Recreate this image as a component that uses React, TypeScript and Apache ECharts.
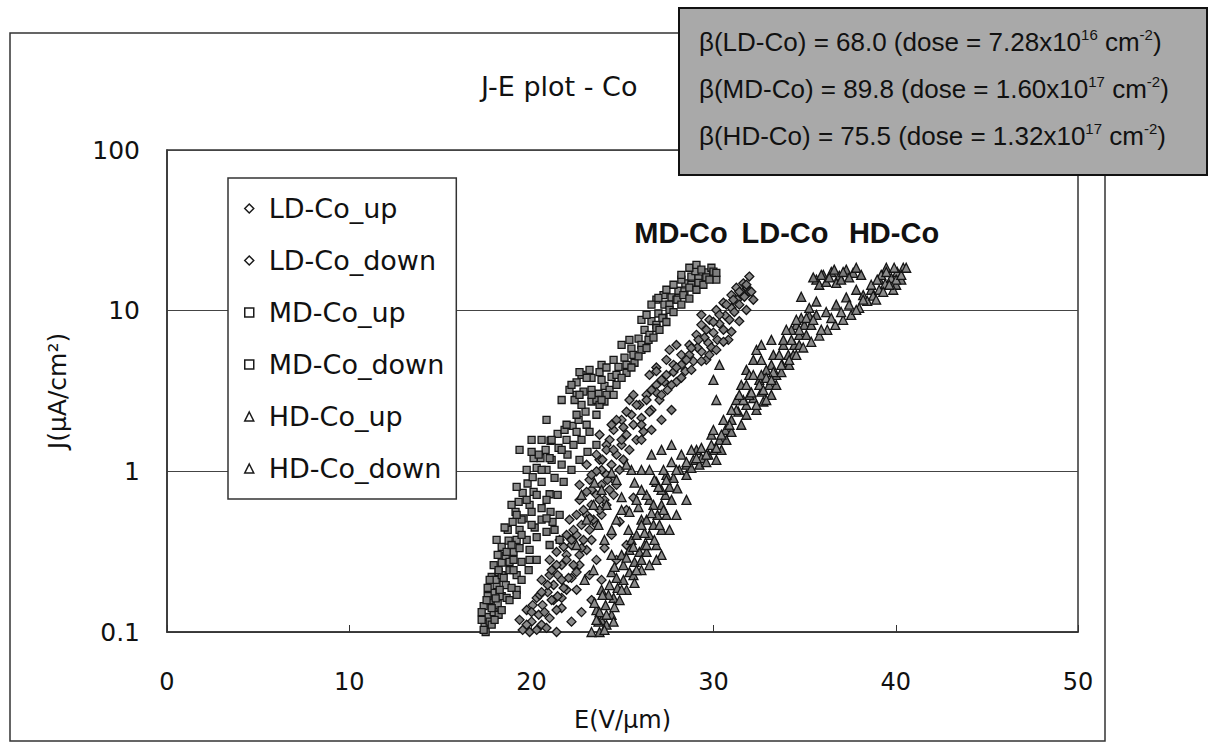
import React, { useEffect, useRef } from "react";
import * as echarts from "echarts";

// ---------- data (E in V/µm, J in µA/cm²) ----------
const seriesNames = ["LD-Co_up", "LD-Co_down", "MD-Co_up", "MD-Co_down", "HD-Co_up", "HD-Co_down"];

const ldUp: number[][] = [
  [19.52, 0.103], [20.01, 0.116], [20.4, 0.128], [20.61, 0.147], [20.29, 0.163], [20.89, 0.177],
  [21.22, 0.196], [20.56, 0.211], [21.44, 0.226], [21.66, 0.261], [21.0, 0.281], [21.93, 0.302],
  [22.2, 0.348], [21.55, 0.374], [22.48, 0.402], [22.75, 0.464], [22.09, 0.5], [23.03, 0.536],
  [23.3, 0.618], [22.64, 0.664], [23.57, 0.714], [23.85, 0.824], [23.19, 0.885], [24.12, 0.95],
  [24.4, 1.1], [23.74, 1.18], [24.67, 1.27], [24.95, 1.46], [24.29, 1.57], [25.22, 1.69],
  [25.6, 1.95], [26.04, 2.15], [26.59, 2.41], [27.03, 2.78], [27.47, 3.21], [27.96, 3.6],
  [28.45, 4.2], [28.89, 4.85], [29.33, 5.56], [29.71, 6.3], [29.99, 7.3], [30.32, 8.3],
  [30.65, 9.3], [30.98, 10.4], [31.3, 11.7], [31.58, 12.9], [31.85, 13.8],
  [19.74, 0.111], [20.56, 0.111], [21.0, 0.122], [20.07, 0.147], [21.22, 0.158], [21.66, 0.141],
  [20.89, 0.196], [21.93, 0.183], [22.2, 0.217], [21.38, 0.261], [22.64, 0.261], [23.03, 0.324],
  [21.77, 0.339], [23.3, 0.374], [22.31, 0.432], [23.57, 0.464], [22.86, 0.575], [23.85, 0.536],
  [24.12, 0.618], [23.3, 0.767], [24.51, 0.714], [23.85, 1.02], [23.03, 1.1], [23.57, 1.27],
  [24.12, 1.46], [23.74, 1.69], [24.51, 1.81], [24.95, 2.09], [25.49, 2.25], [25.93, 2.59],
  [25.38, 2.78], [26.32, 2.99], [26.86, 3.45], [26.48, 3.98], [27.41, 3.98], [27.8, 4.6],
  [28.23, 5.31], [27.58, 5.7], [28.67, 6.12], [29.06, 7.07], [29.33, 8.16], [29.77, 8.77],
  [30.15, 10.1], [30.54, 11.2], [30.98, 12.5], [31.25, 13.9], [31.63, 14.8], [31.96, 16.3],
  [22.48, 0.183], [23.19, 0.226], [23.57, 0.281], [24.01, 0.333], [24.4, 0.402], [24.84, 0.485],
  [25.22, 0.575], [25.6, 0.685], [24.67, 0.281], [25.22, 0.348], [23.85, 0.211], [23.3, 0.158],
  [22.75, 0.133], [22.2, 0.116], [21.38, 0.1],
];

const ldDown: number[][] = [
  [19.9, 0.1], [20.83, 0.106], [19.74, 0.137], [20.45, 0.17], [21.11, 0.158], [21.66, 0.163],
  [21.38, 0.137], [21.77, 0.188], [21.0, 0.226], [22.04, 0.217], [22.31, 0.261], [21.38, 0.315],
  [22.64, 0.302], [22.86, 0.374], [21.93, 0.402], [23.19, 0.432], [23.41, 0.5], [22.48, 0.536],
  [23.74, 0.575], [24.01, 0.664], [23.03, 0.745], [24.29, 0.767], [24.51, 0.885], [23.57, 1.0],
  [24.84, 1.02], [25.05, 1.18], [25.38, 1.36], [25.77, 1.57], [24.12, 1.36], [26.15, 1.77],
  [24.67, 2.09], [25.22, 2.35], [25.77, 2.59], [26.32, 2.78], [26.86, 3.1], [27.3, 3.6],
  [27.8, 4.15], [28.23, 4.6], [28.67, 5.31], [29.11, 5.9], [29.5, 6.8], [29.88, 5.9],
  [30.21, 6.58], [30.54, 7.6], [30.87, 8.77], [31.14, 9.8], [31.41, 10.9], [31.69, 12.2],
  [31.96, 13.1], [30.81, 6.58], [29.6, 4.94],
  [20.29, 0.103], [19.35, 0.119], [20.01, 0.133], [20.72, 0.133], [21.44, 0.167], [20.56, 0.177],
  [21.66, 0.211], [21.11, 0.243], [22.48, 0.236], [21.93, 0.281], [22.75, 0.333], [22.2, 0.374],
  [23.19, 0.51], [23.74, 0.664], [22.64, 0.824], [24.18, 0.885], [24.67, 0.824], [23.3, 0.95],
  [23.9, 1.18], [24.51, 1.36], [24.95, 1.57], [24.4, 1.95], [25.05, 1.88], [26.04, 1.95],
  [26.48, 2.35], [25.6, 2.99], [26.59, 3.21], [27.14, 3.71], [26.86, 4.43], [27.96, 4.43],
  [28.51, 4.94], [28.78, 5.85], [27.96, 6.12], [29.17, 6.58], [29.6, 7.6], [29.99, 8.5],
  [30.32, 9.42], [29.33, 9.42], [30.7, 10.9], [31.08, 11.7], [31.41, 13.1], [31.8, 14.5],
  [32.07, 13.1],
  [27.14, 2.99], [27.69, 3.45], [28.23, 3.82], [28.78, 4.28], [29.33, 4.85], [29.77, 5.31],
  [30.15, 5.7], [30.54, 6.4], [30.98, 7.4], [31.41, 8.6], [31.8, 10.1], [32.18, 11.7],
  [26.04, 1.57], [26.59, 1.81], [27.14, 2.09], [27.69, 2.41], [27.41, 4.94], [26.86, 4.2],
];

const mdUp: number[][] = [
  [17.43, 0.108], [17.6, 0.124], [17.38, 0.145], [17.71, 0.158], [17.87, 0.175], [18.09, 0.196],
  [17.82, 0.22], [18.2, 0.236], [18.37, 0.27], [18.59, 0.298], [18.37, 0.339], [18.75, 0.37],
  [18.7, 0.432], [18.97, 0.485], [19.13, 0.56], [19.3, 0.645], [19.52, 0.735], [19.79, 0.84],
  [20.07, 0.92], [20.29, 1.05], [20.5, 1.21], [20.78, 1.36], [21.05, 1.55], [21.44, 1.71],
  [21.82, 1.81], [22.26, 1.92], [22.59, 2.09], [22.97, 2.35], [23.3, 2.72], [23.68, 3.04],
  [24.01, 3.4], [24.4, 3.87], [24.78, 4.47], [25.11, 5.1], [25.49, 5.8], [25.88, 6.7],
  [26.21, 7.6], [26.59, 8.6], [26.97, 9.6], [27.3, 10.9], [27.69, 12.1], [28.07, 13.3],
  [28.45, 14.8], [28.78, 16.3], [29.0, 17.6], [19.19, 0.183], [19.9, 0.281], [18.09, 0.374],
  [19.35, 1.36], [20.01, 1.57], [20.83, 2.09], [21.66, 2.78], [22.75, 3.98], [23.85, 4.6],
  [23.3, 3.82], [22.48, 3.58], [24.95, 6.12], [26.04, 8.77], [26.86, 11.7], [29.33, 14.5],
  [29.88, 16.2],
  [17.27, 0.119], [17.93, 0.133], [17.6, 0.167], [18.15, 0.15], [18.37, 0.167], [18.04, 0.211],
  [18.59, 0.196], [18.37, 0.226], [18.8, 0.273], [18.15, 0.302], [19.02, 0.315], [19.19, 0.374],
  [18.53, 0.447], [19.35, 0.432], [19.57, 0.51], [18.91, 0.618], [19.9, 0.618], [20.12, 0.745],
  [19.19, 0.8], [20.56, 0.86], [19.74, 1.02], [20.83, 1.02], [21.11, 1.18], [20.12, 1.21],
  [21.49, 1.4], [20.56, 1.57], [21.93, 1.57], [22.48, 1.76], [23.03, 1.95], [23.57, 2.25],
  [22.75, 2.59], [23.3, 3.21], [23.85, 3.71], [23.03, 3.82], [24.29, 3.21], [24.67, 3.98],
  [25.22, 4.6], [24.51, 4.94], [25.6, 5.31], [26.04, 6.12], [25.38, 6.58], [26.48, 7.07],
  [26.86, 8.16], [26.32, 9.42], [27.25, 9.0], [27.58, 10.9], [27.96, 11.7], [27.25, 12.5],
  [28.4, 13.2], [28.78, 14.5], [28.23, 15.6], [29.17, 15.9], [29.6, 17.3], [28.67, 18.5],
  [22.64, 4.15], [23.19, 4.28], [23.74, 4.15], [24.12, 4.43], [22.48, 2.99], [22.09, 3.21],
  [24.01, 2.72], [24.51, 2.99], [26.59, 10.9], [26.97, 12.0], [27.41, 13.5], [27.8, 14.5],
  [28.23, 16.7], [29.06, 19.3], [29.88, 18.5], [30.15, 15.6],
];

const mdDown: number[][] = [
  [17.71, 0.116], [17.27, 0.133], [17.82, 0.141], [18.04, 0.162], [17.6, 0.188], [18.26, 0.183],
  [18.48, 0.217], [18.8, 0.243], [17.93, 0.261], [19.02, 0.281], [18.64, 0.315], [19.35, 0.333],
  [19.74, 0.374], [20.29, 0.39], [20.83, 0.42], [21.16, 0.485], [21.05, 0.56], [20.56, 0.59],
  [20.01, 0.56], [19.46, 0.5], [19.74, 0.664], [20.29, 0.714], [21.0, 0.72], [21.27, 0.91],
  [21.66, 1.1], [21.98, 1.27], [22.31, 1.46], [22.75, 1.57], [23.19, 1.76], [22.37, 2.78],
  [22.86, 3.13], [23.57, 2.78], [24.12, 2.99], [24.67, 3.45], [25.22, 4.1], [25.66, 4.74],
  [26.04, 5.7], [26.43, 6.58], [26.86, 7.8], [27.19, 9.0], [27.58, 10.1], [28.01, 11.7],
  [28.34, 12.5], [28.67, 13.9], [29.17, 14.9], [29.6, 16.1], [29.99, 17.5], [21.11, 1.57],
  [21.66, 1.36], [20.4, 1.27],
  [17.49, 0.1], [17.82, 0.111], [18.2, 0.128], [17.54, 0.158], [18.64, 0.163], [18.91, 0.188],
  [18.2, 0.243], [19.19, 0.226], [19.46, 0.273], [18.91, 0.348], [19.9, 0.324], [20.18, 0.447],
  [20.56, 0.5], [21.27, 0.432], [21.55, 0.536], [20.83, 0.664], [21.44, 0.714], [21.77, 0.86],
  [22.2, 1.02], [22.64, 1.18], [23.08, 1.32], [23.57, 1.46], [21.93, 1.95], [22.48, 2.25],
  [22.64, 2.99], [23.3, 2.99], [23.74, 2.59], [23.85, 2.78], [22.2, 3.45], [24.95, 3.82],
  [25.49, 4.43], [25.88, 5.2], [26.32, 5.85], [26.7, 6.8], [27.03, 7.6], [27.41, 8.5],
  [27.8, 9.8], [28.23, 10.9], [28.67, 11.9], [29.06, 13.5], [29.44, 14.5], [29.77, 15.6],
  [30.15, 17.2], [29.33, 18.0],
  [17.38, 0.103], [17.98, 0.119], [18.37, 0.137], [18.8, 0.158], [17.71, 0.211], [19.19, 0.17],
  [19.46, 0.211], [19.02, 0.243], [19.85, 0.243], [20.29, 0.281], [19.46, 0.402], [20.01, 0.464],
  [21.0, 0.348], [21.55, 0.374], [20.83, 0.51], [19.19, 0.536], [20.56, 1.02], [21.0, 1.21],
  [20.01, 1.32],
];

const hdUp: number[][] = [
  [23.74, 0.1], [23.85, 0.119], [23.57, 0.137], [24.07, 0.147], [24.51, 0.163], [23.85, 0.183],
  [24.73, 0.188], [25.05, 0.211], [24.4, 0.236], [25.38, 0.236], [25.66, 0.273], [24.95, 0.302],
  [25.93, 0.315], [26.21, 0.348], [25.49, 0.374], [26.48, 0.402], [26.7, 0.464], [26.04, 0.5],
  [26.92, 0.536], [27.14, 0.618], [26.48, 0.664], [27.36, 0.714], [27.58, 0.8], [26.86, 0.86],
  [27.8, 0.91], [28.12, 1.02], [28.51, 1.1], [28.89, 1.18], [29.33, 1.21], [29.71, 1.27],
  [30.04, 1.36], [30.32, 1.57], [30.65, 1.81], [30.98, 2.09], [31.36, 2.35], [31.8, 2.59],
  [32.18, 2.86], [32.62, 3.13], [33.06, 3.45], [33.44, 3.98], [33.77, 4.6], [34.1, 5.31],
  [34.43, 6.12], [34.7, 7.07], [34.98, 8.16], [35.25, 9.3], [34.81, 12.2], [35.64, 15.6],
  [36.02, 16.7], [36.46, 17.4], [36.9, 16.5], [37.28, 18.0], [37.66, 17.2], [35.8, 14.5],
  [36.73, 14.9], [36.18, 15.1],
  [23.68, 0.116], [24.12, 0.111], [23.74, 0.133], [24.4, 0.128], [24.23, 0.17], [24.84, 0.158],
  [25.22, 0.183], [24.67, 0.217], [25.6, 0.226], [25.05, 0.261], [26.04, 0.281], [25.38, 0.324],
  [26.32, 0.315], [25.77, 0.402], [26.86, 0.348], [27.14, 0.432], [26.32, 0.5], [27.41, 0.536],
  [26.7, 0.618], [27.69, 0.664], [27.14, 0.767], [28.01, 0.783], [27.41, 0.95], [28.51, 0.95],
  [28.78, 1.05], [29.22, 1.1], [29.6, 1.14], [29.06, 1.36], [30.15, 1.18], [30.43, 1.36],
  [29.88, 1.69], [30.7, 1.57], [30.98, 1.76], [31.52, 1.95], [31.8, 2.25], [31.25, 2.78],
  [32.35, 2.41], [32.73, 2.72], [31.96, 2.99], [33.17, 2.99], [32.51, 3.71], [33.44, 3.45],
  [33.72, 4.15], [33.17, 4.6], [34.15, 4.6], [34.37, 5.31], [33.83, 6.12], [34.7, 6.12],
  [35.09, 7.07], [34.54, 8.16], [35.36, 8.16], [35.64, 9.42], [35.91, 16.7], [36.35, 16.1],
  [36.62, 18.0], [37.0, 15.6], [37.44, 16.1], [35.47, 16.1], [37.83, 18.5], [37.11, 17.4],
  [31.8, 4.28], [32.18, 4.94], [31.52, 3.45], [32.89, 4.28], [33.28, 5.31], [32.62, 3.98],
  [33.83, 6.58], [34.27, 7.6], [34.81, 9.0], [35.25, 10.4], [35.64, 11.4], [36.18, 9.8],
  [36.73, 10.9], [37.28, 12.1], [37.83, 13.5], [38.21, 12.5], [38.65, 13.5], [39.09, 15.6],
  [39.48, 18.5], [40.02, 14.5], [40.3, 15.6], [38.1, 16.7],
];

const hdDown: number[][] = [
  [24.01, 0.103], [24.12, 0.128], [23.46, 0.152], [24.56, 0.143], [22.92, 0.211], [24.29, 0.196],
  [25.66, 0.202], [26.04, 0.243], [24.56, 0.254], [25.22, 0.29], [24.01, 0.374], [25.33, 0.432],
  [26.21, 0.414], [26.75, 0.374], [24.67, 0.5], [26.59, 0.55], [25.88, 0.6], [24.95, 0.69],
  [26.97, 0.8], [26.75, 0.885], [25.66, 0.85], [23.46, 0.85], [24.4, 0.98], [27.25, 1.02],
  [27.69, 1.14], [28.23, 1.27], [28.78, 1.36], [29.33, 1.4], [29.88, 1.46], [30.43, 1.69],
  [30.87, 1.95], [31.25, 2.41], [31.63, 2.78], [32.07, 3.1], [32.51, 3.45], [32.89, 3.82],
  [33.28, 4.15], [33.72, 4.6], [34.15, 4.94], [34.54, 5.31], [34.92, 5.9], [35.36, 6.4],
  [35.8, 7.0], [36.24, 7.6], [36.68, 8.16], [37.11, 8.77], [37.55, 9.42], [37.99, 10.4],
  [38.43, 11.5], [38.76, 12.4], [39.09, 13.5], [39.42, 14.7], [39.75, 16.0], [40.08, 17.4],
  [40.41, 18.5], [39.2, 16.7], [39.86, 13.5], [38.65, 14.5], [32.35, 2.59], [32.89, 2.78],
  [31.96, 3.98], [32.62, 4.94], [33.17, 6.58], [33.99, 7.6], [34.54, 8.77],
  [23.3, 0.1], [23.57, 0.119], [24.51, 0.116], [23.9, 0.17], [24.95, 0.183], [23.41, 0.243],
  [25.77, 0.243], [26.48, 0.261], [24.4, 0.302], [25.6, 0.339], [27.14, 0.302], [23.68, 0.464],
  [26.04, 0.464], [27.03, 0.464], [25.38, 0.56], [27.25, 0.575], [24.12, 0.618], [26.32, 0.714],
  [25.49, 1.02], [26.04, 0.767], [27.41, 0.885], [27.96, 1.02], [28.51, 1.14], [29.06, 1.21],
  [29.6, 1.27], [30.15, 1.4], [29.99, 1.81], [30.54, 2.09], [30.15, 2.78], [29.99, 3.71],
  [30.32, 4.6], [30.98, 2.41], [31.41, 2.99], [31.8, 3.45], [32.18, 3.98], [32.35, 5.7],
  [32.62, 6.12], [32.73, 3.21], [33.17, 3.71], [33.6, 5.31], [34.27, 6.58], [34.7, 7.6],
  [35.09, 9.0], [35.47, 8.77], [35.91, 7.6], [36.46, 9.0], [37.0, 9.8], [37.44, 10.9],
  [37.83, 10.1], [38.21, 11.7], [38.92, 11.7], [39.31, 13.1], [39.64, 14.5], [40.02, 15.6],
  [40.3, 16.7], [39.91, 18.5], [39.48, 17.4], [38.98, 15.6], [40.57, 18.5],
  [22.48, 0.348], [23.03, 0.5], [23.41, 0.618], [22.75, 0.714], [23.85, 0.767], [24.67, 0.885],
  [25.22, 1.1], [26.04, 1.02], [26.59, 1.27], [27.14, 1.36], [27.69, 1.46], [26.48, 1.02],
  [24.95, 0.575], [24.4, 0.432], [25.77, 0.664], [26.32, 0.348], [26.86, 0.281], [27.58, 0.432],
  [27.96, 0.536], [28.51, 0.664],
];

const seriesData = [ldUp, ldDown, mdUp, mdDown, hdUp, hdDown];
const seriesSymbols = ["diamond", "diamond", "rect", "rect", "triangle", "triangle"];
const seriesSymbolSizes = [9, 9, 7, 7, 9, 9];
const seriesFills = ["#8c8c8c", "#7e7e7e", "#8c8c8c", "#7e7e7e", "#7a7a7a", "#8c8c8c"];

const xMin = 0;
const xMax = 50;
const xInterval = 10;
const yMin = 0.1;
const yMax = 100;

const titleText = "J-E plot - Co";
const xAxisName = "E(V/\u00b5m)";
const yAxisName = "J(\u00b5A/cm\u00b2)";

const betaNames = ["LD-Co", "MD-Co", "HD-Co"];
const betaValues = ["68.0", "89.8", "75.5"];
const doseMantissas = ["7.28", "1.60", "1.32"];
const doseExponents = ["16", "17", "17"];

const bandLabels = ["MD-Co", "LD-Co", "HD-Co"];

const UI_FONT = "'DejaVu Sans', 'Noto Sans', sans-serif";
const ARIAL = "'Liberation Sans', Arial, sans-serif";

export default function App() {
  const ref = useRef<HTMLDivElement>(null);

  useEffect(() => {
    if (!ref.current) return;
    const chart = echarts.init(ref.current, undefined, { renderer: "svg" });

    const betaTexts = betaNames.map(
      (n, i) =>
        `{n|\u03b2(${n}) = ${betaValues[i]} (dose = ${doseMantissas[i]}x10}{s|${doseExponents[i]}}{n| cm}{s|-2}{n|)}`
    );

    const bandX = [681, 785, 894];

    const option: any = {
      animation: false,
      backgroundColor: "#ffffff",
      title: {
        text: titleText,
        left: 476,
        top: 68,
        textStyle: { fontSize: 27, fontWeight: "normal", fontFamily: UI_FONT, color: "#111" },
      },
      grid: {
        left: 167,
        right: 138,
        top: 150,
        bottom: 113,
        show: true,
        borderColor: "#333",
        borderWidth: 1.5,
        backgroundColor: "transparent",
      },
      legend: {
        orient: "vertical",
        left: 228,
        top: 178,
        data: seriesNames,
        padding: [17, 12, 17, 16],
        itemGap: 25,
        itemWidth: 9,
        itemHeight: 9,
        backgroundColor: "#fff",
        borderColor: "#333",
        borderWidth: 1.5,
        borderRadius: 0,
        itemStyle: { color: "#ffffff", borderColor: "#1a1a1a", borderWidth: 1.5 },
        textStyle: { fontSize: 27, fontFamily: UI_FONT, color: "#111", padding: [0, 0, 0, 10] },
      },
      xAxis: {
        type: "value",
        min: xMin,
        max: xMax,
        interval: xInterval,
        name: xAxisName,
        nameLocation: "middle",
        nameGap: 76,
        nameTextStyle: { fontSize: 24, fontFamily: UI_FONT, color: "#111" },
        axisLine: { show: true, lineStyle: { color: "#333", width: 1.5 } },
        axisTick: { show: true, inside: true, length: 7, lineStyle: { color: "#333" } },
        axisLabel: { fontSize: 24, fontFamily: UI_FONT, color: "#111", margin: 38 },
        splitLine: { show: false },
      },
      yAxis: {
        type: "log",
        logBase: 10,
        min: yMin,
        max: yMax,
        name: yAxisName,
        nameLocation: "middle",
        nameRotate: 90,
        nameGap: 97,
        nameTextStyle: { fontSize: 25, fontFamily: UI_FONT, color: "#111" },
        axisLine: { show: true, lineStyle: { color: "#333", width: 1.5 } },
        axisTick: { show: false },
        minorTick: { show: false },
        axisLabel: {
          fontSize: 25,
          fontFamily: UI_FONT,
          color: "#111",
          margin: 27,
          formatter: (v: number) => String(parseFloat(Number(v).toPrecision(3))),
        },
        splitLine: { show: true, lineStyle: { color: "#444", width: 1.2 } },
      },
      series: seriesNames.map((name, i) => ({
        name,
        type: "scatter",
        data: seriesData[i],
        symbol: seriesSymbols[i],
        symbolSize: seriesSymbolSizes[i],
        itemStyle: { color: seriesFills[i], borderColor: "#151515", borderWidth: 1.3, opacity: 1 },
        emphasis: { disabled: true },
        z: 3,
      })),
      graphic: [
        {
          type: "rect",
          shape: { x: 10, y: 33, width: 1095, height: 708 },
          style: { fill: "none", stroke: "#333", lineWidth: 1.5 },
          z: 1,
          silent: true,
        },
        {
          type: "rect",
          shape: { x: 679, y: 8, width: 528, height: 167 },
          style: { fill: "#a9a9a9", stroke: "#111", lineWidth: 2 },
          z: 20,
          silent: true,
        },
        ...betaTexts.map((t, i) => ({
          type: "text",
          left: 699,
          top: 27 + i * 47,
          z: 21,
          silent: true,
          style: {
            text: t,
            rich: {
              n: { fontSize: 26, fontFamily: ARIAL, fill: "#111", lineHeight: 30 },
              s: { fontSize: 15, fontFamily: ARIAL, fill: "#111", lineHeight: 16, verticalAlign: "top" },
            },
          },
        })),
        ...bandLabels.map((t, i) => ({
          type: "text",
          x: bandX[i],
          y: 233,
          z: 21,
          silent: true,
          style: {
            text: t,
            fontSize: 29,
            fontWeight: "bold",
            fontFamily: ARIAL,
            fill: "#111",
            align: "center",
            verticalAlign: "middle",
          },
        })),
      ],
    };

    chart.setOption(option);
    return () => chart.dispose();
  }, []);

  return (
    <div
      ref={ref}
      style={{ position: "absolute", left: 0, top: 0, width: 1216, height: 745, background: "#fff" }}
    />
  );
}
